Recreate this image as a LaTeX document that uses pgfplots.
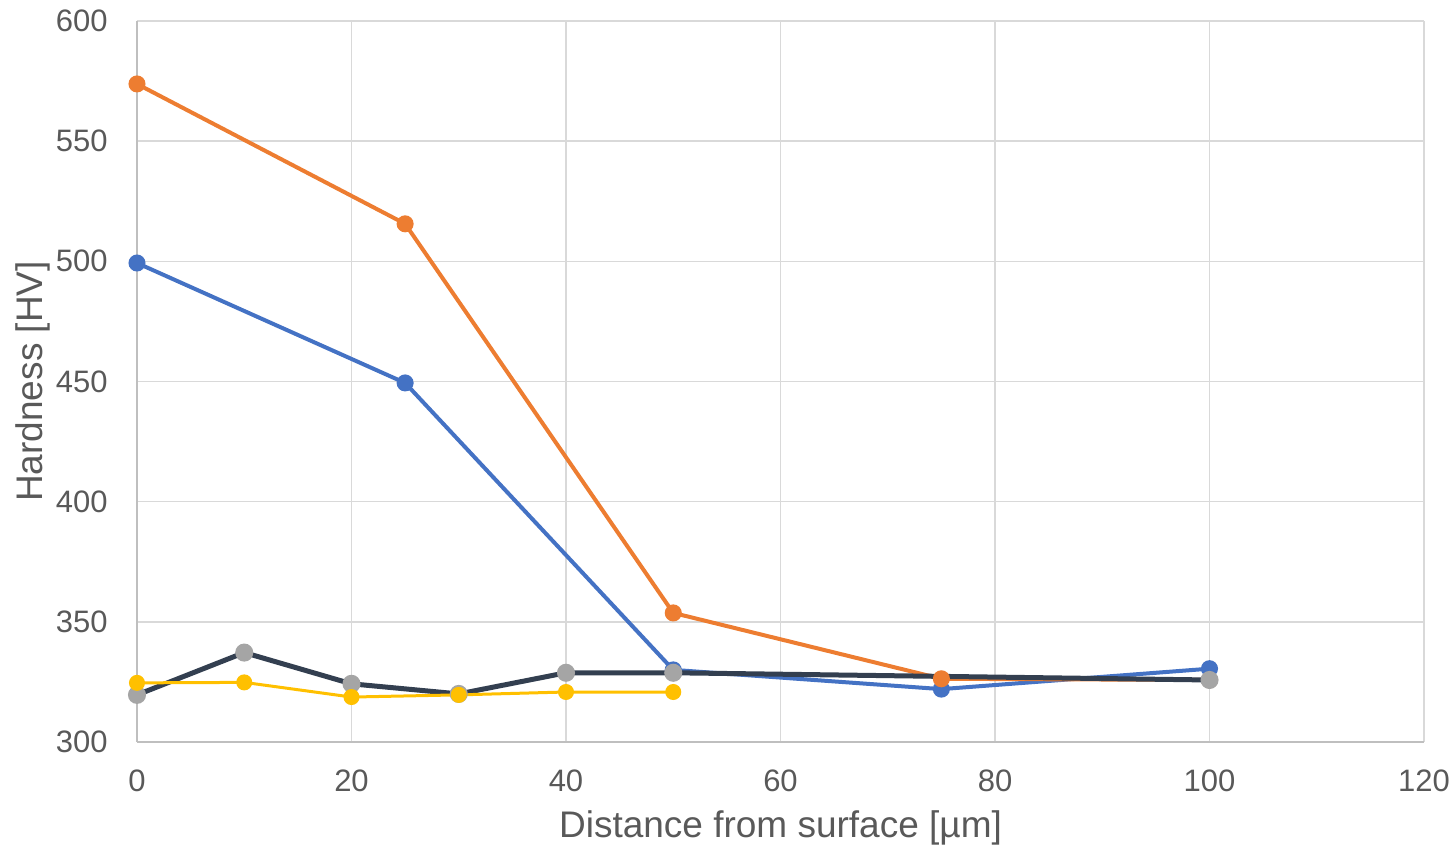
\documentclass[border=0pt]{standalone}
\usepackage{pgfplots}
\pgfplotsset{compat=1.18}
\usepackage{fontspec}
\setmainfont{Liberation Sans}

\definecolor{xlorange}{HTML}{ED7D31}
\definecolor{xlblue}{HTML}{4472C4}
\definecolor{xlnavy}{HTML}{333F50}
\definecolor{xlgray}{HTML}{A5A5A5}
\definecolor{xlyellow}{HTML}{FFC000}
\definecolor{gridc}{HTML}{D9D9D9}
\definecolor{axisc}{HTML}{BFBFBF}
\definecolor{textc}{HTML}{595959}

\begin{document}
\begin{tikzpicture}
\useasboundingbox (-68.5pt,-53.5pt) rectangle (659.5pt,371pt);
\begin{axis}[
    at={(0,0)}, anchor=south west,
    scale only axis,
    width=643.5pt, height=360.5pt,
    xmin=0, xmax=120, ymin=300, ymax=600,
    xtick={0,20,...,120}, ytick={300,350,...,600},
    axis lines*=left,
    axis line style={axisc, line width=0.75pt},
    grid=major,
    major grid style={gridc, line width=0.75pt},
    major tick length=0pt,
    clip=false,
    /pgf/number format/assume math mode=true,
    tick label style={font=\fontsize{15.5}{18}\selectfont, text=textc},
    yticklabel style={anchor=east, inner sep=0pt, xshift=-14.5pt},
    xticklabel style={anchor=north, inner sep=0pt, yshift=-13.5pt},
    xlabel={Distance from surface [µm]},
    ylabel={Hardness [HV]},
    every axis x label/.style={at={(axis description cs:0.5,-0.1193)}, anchor=center,
        font=\fontsize{18.5}{22}\selectfont, text=textc},
    every axis y label/.style={at={(axis description cs:-0.0808,0.5)}, anchor=center, rotate=90,
        font=\fontsize{18.5}{22}\selectfont, text=textc},
    every mark/.append style={line width=0.5pt},
]
% blue
\addplot[xlblue, line width=2pt, mark=*, mark size=3.25pt, mark options={fill=xlblue, draw=xlblue}]
coordinates {(0,499.3) (25,449.4) (50,330) (75,322) (100,330.5)};
% orange
\addplot[xlorange, line width=2pt, mark=*, mark size=3.25pt, mark options={fill=xlorange, draw=xlorange}]
coordinates {(0,573.8) (25,515.6) (50,353.7) (75,326.3) (100,325.8)};
% dark line, gray markers
\addplot[xlnavy, line width=2.5pt, mark=*, mark size=3.25pt, mark options={fill=xlgray, draw=xlgray}]
coordinates {(0,319.6) (10,337.2) (20,324.2) (30,320) (40,328.8) (50,328.8) (100,325.8)};
% yellow
\addplot[xlyellow, line width=1.5pt, mark=*, mark size=3.25pt, mark options={fill=xlyellow, draw=xlyellow}]
coordinates {(0,324.6) (10,324.8) (20,318.7) (30,319.6) (40,320.8) (50,320.8)};
\end{axis}
\end{tikzpicture}
\end{document}
